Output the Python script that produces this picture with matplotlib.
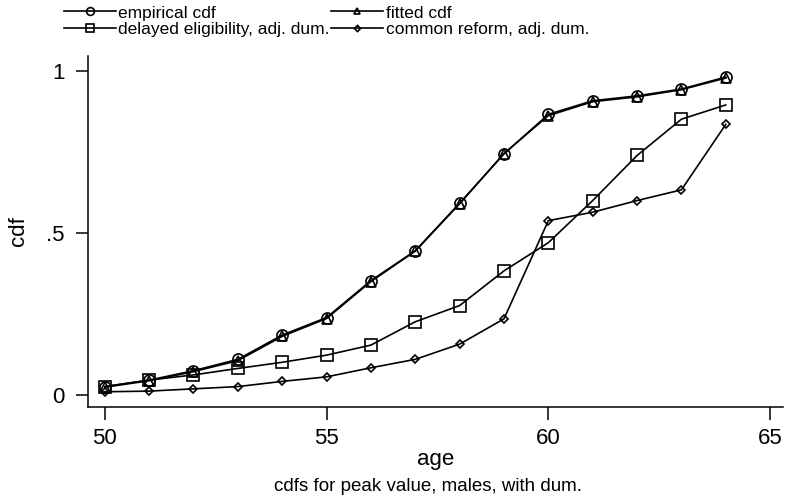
import numpy as np
import matplotlib
matplotlib.use("Agg")
import matplotlib.pyplot as plt

plt.rcParams['font.family'] = ['Liberation Sans', 'DejaVu Sans']

age = list(range(50, 65))

# values
empirical = [0.026, 0.046, 0.075, 0.110, 0.185, 0.239, 0.353, 0.445, 0.592, 0.744,
             0.866, 0.908, 0.923, 0.944, 0.981]
fitted = [0.024, 0.044, 0.072, 0.106, 0.181, 0.236, 0.350, 0.444, 0.590, 0.745,
          0.862, 0.905, 0.920, 0.942, 0.978]
delayed = [0.026, 0.046, 0.062, 0.082, 0.101, 0.123, 0.154, 0.226, 0.276, 0.383,
           0.470, 0.600, 0.739, 0.851, 0.895]
common = [0.010, 0.012, 0.019, 0.026, 0.042, 0.056, 0.084, 0.110, 0.157, 0.235,
          0.538, 0.564, 0.600, 0.633, 0.835]

fig = plt.figure(figsize=(7.85, 5), dpi=100)
ax = fig.add_axes([0.112, 0.186, 0.886, 0.702])

lw = 1.2
h1, = ax.plot(age, empirical, color='k', lw=lw, marker='o', ms=8, mfc='none', mew=1.2,
              label='empirical cdf')
h2, = ax.plot(age, fitted, color='k', lw=lw, marker='^', ms=7, mfc='none', mew=1.2,
              label='fitted cdf')
h3, = ax.plot(age, delayed, color='k', lw=lw, marker='s', ms=9, mfc='none', mew=1.2,
              label='delayed eligibility, adj. dum.')
h4, = ax.plot(age, common, color='k', lw=lw, marker='D', ms=4.5, mfc='none', mew=1.2,
              label='common reform, adj. dum.')

ax.set_xlim(49.62, 65.3)
ax.set_ylim(-0.037, 1.046)
ax.set_xticks([50, 55, 60, 65])
ax.set_yticks([0, 0.5, 1])
ax.set_yticklabels(['0', '.5', '1'])
ax.tick_params(axis='both', direction='out', length=9, width=1.1, labelsize=16,
               color='k')
ax.tick_params(axis='y', pad=8)
ax.tick_params(axis='x', pad=6)
for s in ['top', 'right']:
    ax.spines[s].set_visible(False)
for s in ['left', 'bottom']:
    ax.spines[s].set_linewidth(1.1)

ax.set_xlabel('age', fontsize=16, labelpad=0)
ax.set_ylabel('cdf', fontsize=16, labelpad=12)

fig.text(0.545, 0.027, 'cdfs for peak value, males, with dum.', fontsize=13.5,
         ha='center', va='center')

# row-major order like the original: column 1 = h1, h3 ; column 2 = h2, h4
fig.legend([h1, h3, h2, h4],
           [h.get_label() for h in [h1, h3, h2, h4]],
           loc='upper left', bbox_to_anchor=(0.068, 1.01), ncol=2, frameon=False,
           fontsize=12.5, handlelength=3.0, handletextpad=0.15, columnspacing=0.05,
           labelspacing=0.05, borderpad=0.1, markerscale=0.7)

fig.savefig('out.png', dpi=100)
